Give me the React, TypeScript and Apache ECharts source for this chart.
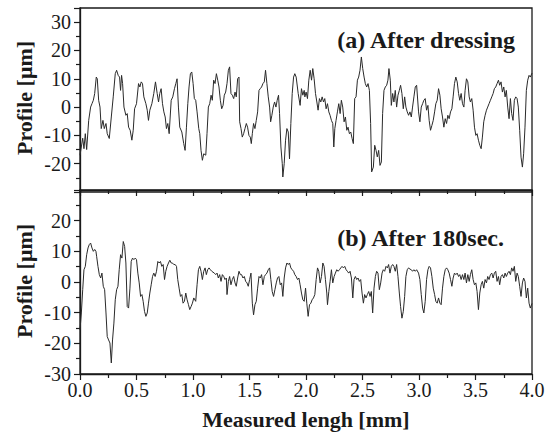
import React, { useEffect, useRef } from "react";
import * as echarts from "echarts";

// Measured length ticks [mm]
const xTicks = [0, 0.5, 1.0, 1.5, 2.0, 2.5, 3.0, 3.5, 4.0];

// (a) After dressing : position [mm]
const topX = [
  0.000, 0.024, 0.035, 0.047, 0.059, 0.077, 0.094, 0.106, 0.118, 0.130, 0.144, 0.153, 0.165, 0.177, 0.188, 0.203, 0.215, 0.230, 0.241, 0.259,
  0.277, 0.294, 0.312, 0.324, 0.338, 0.350, 0.359, 0.368, 0.377, 0.389, 0.406, 0.418, 0.430, 0.444, 0.459, 0.471, 0.483, 0.500, 0.518, 0.530,
  0.542, 0.553, 0.565, 0.583, 0.595, 0.606, 0.618, 0.636, 0.653, 0.668, 0.683, 0.695, 0.706, 0.718, 0.730, 0.742, 0.754, 0.765, 0.777, 0.789,
  0.807, 0.821, 0.836, 0.848, 0.859, 0.871, 0.883, 0.901, 0.918, 0.930, 0.942, 0.954, 0.965, 0.977, 0.989, 1.001, 1.012,
  1.024, 1.036, 1.051, 1.060, 1.071, 1.083, 1.095, 1.113, 1.124, 1.136, 1.148, 1.160, 1.171, 1.183, 1.195, 1.207, 1.219, 1.230, 1.242, 1.254,
  1.266, 1.277, 1.289, 1.301, 1.313, 1.324, 1.336, 1.348, 1.360, 1.372, 1.383, 1.395, 1.407, 1.413, 1.425, 1.436, 1.448, 1.460, 1.472, 1.483,
  1.495, 1.507, 1.516, 1.525, 1.536, 1.548, 1.560, 1.572, 1.584, 1.595, 1.607, 1.619, 1.631, 1.642, 1.654, 1.666, 1.678, 1.687, 1.698, 1.710,
  1.722, 1.734, 1.745, 1.757, 1.766, 1.778, 1.790, 1.795, 1.807, 1.819, 1.831, 1.843, 1.854, 1.866, 1.878, 1.890, 1.901, 1.913, 1.931, 1.948,
  1.960, 1.972, 1.984,
  1.990, 2.001, 2.013, 2.025, 2.037, 2.049, 2.060, 2.072, 2.084, 2.096, 2.107, 2.119, 2.131, 2.143, 2.155, 2.166, 2.178, 2.190, 2.202, 2.213,
  2.225, 2.237, 2.246, 2.255, 2.266, 2.278, 2.290, 2.302, 2.313, 2.325, 2.337, 2.349, 2.361, 2.372, 2.384, 2.396, 2.408, 2.419, 2.431, 2.443,
  2.455, 2.466, 2.478, 2.490, 2.502, 2.514, 2.525, 2.537, 2.549, 2.561, 2.572, 2.581, 2.596, 2.608, 2.620, 2.631, 2.643, 2.655, 2.667, 2.678,
  2.690, 2.702, 2.714, 2.725, 2.734, 2.746, 2.755, 2.767, 2.778, 2.790, 2.802, 2.814, 2.826, 2.837, 2.849, 2.861, 2.873, 2.884, 2.896, 2.908,
  2.920, 2.932, 2.943, 2.955, 2.967, 2.979,
  2.996, 3.008, 3.020, 3.032, 3.043, 3.055, 3.067, 3.079, 3.090, 3.102, 3.114, 3.126, 3.138, 3.149, 3.161, 3.173, 3.185, 3.196, 3.208, 3.220,
  3.232, 3.244, 3.255, 3.267, 3.279, 3.291, 3.302, 3.314, 3.326, 3.338, 3.350, 3.361, 3.373, 3.385, 3.397, 3.408, 3.420, 3.432, 3.444, 3.455,
  3.467, 3.479, 3.491, 3.503, 3.514, 3.526, 3.538, 3.550, 3.561, 3.573, 3.585, 3.597, 3.608, 3.620, 3.632, 3.644, 3.656, 3.667, 3.679, 3.691,
  3.703, 3.714, 3.726, 3.738, 3.750, 3.762, 3.773, 3.785, 3.797, 3.809, 3.820, 3.832, 3.844, 3.856, 3.868, 3.879, 3.891, 3.903, 3.915, 3.926,
  3.938, 3.950, 3.962, 3.974, 3.985, 4.000,
];

// (a) After dressing : profile [µm]
const topY = [
  -17, -11, -14.7, -9.4, -15, -4.7, 0, 1.2, 2.4, 4.8, 10.6, 10, 2.4, 0, -7.6, -4.7, -7.6, -5.8, -9.4, -11.1,
  -3.5, 3.6, 11.8, 13, 11.2, 10.6, 5.9, 11.2, 8.3, 0, -2.9, -2.3, -7.1, -8.2, -11.7, -8.2, -0.6, 1.2, 8.3, 7.1,
  8.9, 8.3, 3.6, 1.2, -1.1, -4.7, -1.1, 1.2, 4.8, 8.9, 4.8, 1.8, 4.8, 6.5, 1.2, -1.7, -3.5, -7.6, -5.8, -9.4,
  2.4, 3.6, 6.5, 8.3, 10, 0, -7.1, -8.8, -12.9, -15.3, -7.1, 1.2, 7.1, 11.8, 12.4, 8.3, 3.0,
  2.4, -1.7, -7.6, -9.4, -15.3, -18.8, -16.5, -17, -9.4, 0, 1.2, 4.2, 2.4, 9.5, 8.3, 11.8, 9.5, 7.1, 2.4, -0.6,
  0.6, 4.2, 5.3, 8.3, 13, 14.2, 4.8, 4.2, 3.0, 5.3, 3.6, 10, 10.6, -5.2, -7.6, -10.6, -9.4, -7.6, -5.8, -7.1,
  -10, -10.6, -12.9, -9.4, -5.8, -7.6, -4.7, -1.7, 5.9, 6.5, 7.1, 8.3, 8.9, 13, 8.3, 3.6, 0, -5.2, -2.9, 0,
  1.8, 0, 2.4, 4.2, -2.3, -14.1, -20, -24.7, -20, -11.7, -7.6, -8.8, -18.3, -5.8, 4.8, 10.6, 11.8, 10.6, 4.8, 0.6,
  6.5, 4.2, 5.9,
  3.6, 5.3, 3.0, 9.5, 13, 9.5, 13.6, 10, 4.8, 1.8, -1.1, 3.0, 1.8, 3.6, 1.8, 3.0, -0.6, 1.2, -1.7, -2.9,
  -4.7, -5.8, -14.1, -7.6, -4.7, -1.7, 1.2, -2.3, 2.4, 0, -5.2, -3.5, -8.2, -7.1, -9.4, -8.8, -11.1, -12.9, 3.0, 3.6,
  9.5, 10.6, 13, 17.7, 13.6, 10.6, 8.3, 7.1, 8.3, 5.9, -5.8, -22.9, -21.2, -13.5, -15.3, -17.6, -15.3, -20.6, -19.4, -2.3,
  5.9, 7.1, 7.7, 9.5, 13.6, 9.5, 0.6, 4.8, 1.8, 5.9, 0, 4.2, 5.9, 7.7, 4.8, -0.6, 3.6, 0, -1.7, -2.9,
  -1.7, -3.5, 0, 3.6, 7.1, 7.7,
  -1.7, -5.2, 0, 1.2, 2.4, 3.0, -1.1, 0.6, -4.7, -8.2, -6.5, -4.7, -1.7, 1.2, 2.4, 6.5, 4.2, -0.6, -3.5, -7.1,
  -4.1, -5.8, -2.9, -4.1, -1.7, -0.6, 3.6, 8.3, 10.6, 8.9, 4.8, 2.4, 4.8, 1.2, 0, 5.9, 10, 8.9, 3.6, 1.8,
  3.0, -1.1, -7.1, -10, -9.4, -11.7, -13.5, -14.7, -10.6, -5.2, -2.9, -1.1, 0, 1.2, 2.4, 3.6, 4.8, 6.5, 7.1, 8.3,
  9.5, 7.7, 8.9, 5.3, 7.1, 3.6, 5.9, 0, -4.1, 3.0, -2.3, -4.7, 2.4, 3.6, 3.0, 0, -8.2, -17.7, -21.2, -16.5,
  -7.1, 5.9, 9.5, 11.2, 10.6, 12,
];

// (b) After 180sec. : position [mm]
const botX = [
  0.000, 0.012, 0.024, 0.035, 0.047, 0.059, 0.071, 0.082, 0.094, 0.106, 0.118, 0.130, 0.141, 0.147, 0.159, 0.171, 0.183, 0.194, 0.206, 0.218,
  0.230, 0.241, 0.253, 0.265, 0.277, 0.288, 0.300, 0.312, 0.324, 0.336, 0.347, 0.359, 0.371, 0.383, 0.395, 0.406, 0.418, 0.430, 0.442, 0.453,
  0.465, 0.477, 0.489, 0.500, 0.512, 0.524, 0.536, 0.548, 0.559, 0.571, 0.583, 0.595, 0.606, 0.618, 0.630, 0.642, 0.653, 0.665, 0.677, 0.689,
  0.700, 0.712, 0.724, 0.736, 0.748, 0.759, 0.771, 0.783, 0.795, 0.807, 0.818, 0.830, 0.842, 0.854, 0.865, 0.877, 0.889, 0.901, 0.912, 0.924,
  0.936, 0.948, 0.960, 0.971, 0.983, 0.995, 1.007,
  1.024, 1.036, 1.048, 1.060, 1.071, 1.083, 1.095, 1.107, 1.118, 1.130, 1.142, 1.154, 1.166, 1.177, 1.189, 1.201, 1.213, 1.224, 1.236, 1.248,
  1.260, 1.272, 1.283, 1.295, 1.301, 1.313, 1.324, 1.336, 1.348, 1.360, 1.372, 1.383, 1.395, 1.407, 1.419, 1.430, 1.442, 1.454, 1.466, 1.478,
  1.489, 1.501, 1.513, 1.525, 1.536, 1.548, 1.560, 1.572, 1.584, 1.595, 1.607, 1.619, 1.631, 1.642, 1.654, 1.666, 1.678, 1.689, 1.701, 1.713,
  1.725, 1.737, 1.748, 1.760, 1.772, 1.784, 1.795, 1.807, 1.819, 1.831, 1.843, 1.854, 1.866, 1.878, 1.890, 1.901, 1.913, 1.925, 1.937, 1.948,
  1.960, 1.972, 1.984, 1.996,
  2.007, 2.019, 2.031, 2.043, 2.054, 2.066, 2.078, 2.090, 2.102, 2.113, 2.125, 2.137, 2.149, 2.160, 2.172, 2.184, 2.190, 2.202, 2.213, 2.225,
  2.237, 2.249, 2.260, 2.272, 2.284, 2.296, 2.308, 2.319, 2.331, 2.343, 2.355, 2.366, 2.378, 2.390, 2.402, 2.414, 2.425, 2.437, 2.449, 2.461,
  2.472, 2.484, 2.496, 2.508, 2.519, 2.531, 2.543, 2.555, 2.567, 2.578, 2.590, 2.602, 2.614, 2.625, 2.637, 2.649, 2.661, 2.673, 2.684, 2.696,
  2.708, 2.720, 2.731, 2.743, 2.755, 2.767, 2.778, 2.790, 2.802, 2.814, 2.826, 2.837, 2.849, 2.861, 2.873, 2.884, 2.896, 2.908, 2.920, 2.932,
  2.943, 2.955, 2.967, 2.979,
  2.985, 2.996, 3.008, 3.020, 3.032, 3.043, 3.055, 3.067, 3.079, 3.090, 3.102, 3.114, 3.126, 3.138, 3.149, 3.161, 3.173, 3.185, 3.196, 3.208,
  3.220, 3.232, 3.244, 3.255, 3.267, 3.279, 3.291, 3.302, 3.314, 3.326, 3.338, 3.350, 3.361, 3.373, 3.385, 3.397, 3.408, 3.420, 3.432, 3.444,
  3.455, 3.467, 3.479, 3.491, 3.503, 3.514, 3.526, 3.538, 3.550, 3.561, 3.573, 3.585, 3.597, 3.608, 3.620, 3.632, 3.644, 3.656, 3.667, 3.679,
  3.691, 3.703, 3.714, 3.726, 3.738, 3.750, 3.762, 3.773, 3.785, 3.797, 3.809, 3.820, 3.832, 3.844, 3.856, 3.868, 3.879, 3.891, 3.903, 3.915,
  3.926, 3.938, 3.950, 3.962, 3.974, 3.985, 4.000,
];

// (b) After 180sec. : profile [µm]
const botY = [
  -15.6, -10.1, -2.5, 4.0, 5.1, 8.9, 11.1, 12.2, 12.7, 11.1, 10, 10.6, 10, 8.4, 5.1, 2.4, 1.3, 2.9, -1.4, -2.5,
  -10.1, -17.8, -18.9, -19.9, -26.4, -18.9, -13.4, -5.8, -2.5, -1.4, 4.0, 8.9, 7.8, 13.2, 11.6, 6.2, -8.0, -8.5, -2.0, 6.7,
  7.8, 7.3, 7.8, 7.3, 2.9, -0.3, -4.7, -4.1, -6.3, -9.6, -11.2, -10.1, -6.9, -3.6, -0.9, 1.8, 2.9, 1.8, 3.5, 6.7,
  6.2, 6.7, 5.1, 5.7, 0.8, 3.5, 5.1, 6.2, 7.1, 6.2, 6.2, 5.7, 5.7, 5.1, 0.8, -2.0, -4.7, -4.1, -6.9, -6.3,
  -3.6, -5.8, -7.4, -9.0, -8.0, -6.9, -5.2,
  -6.3, -0.9, 4.0, 5.1, 3.5, 0.8, 3.5, 4.6, 2.4, 4.0, 4.6, 4.0, 3.5, 3.2, 2.9, 2.4, 2.9, 1.3, 2.4, 0.2,
  2.4, 1.8, 0.8, 1.3, -4.1, 0.2, 1.8, -0.9, 0.8, 1.8, -0.3, -1.4, 1.3, 3.5, 2.4, 2.4, 1.3, 1.8, 0.2, -0.3,
  -1.4, 0.8, 2.9, -6.9, -10.7, -7.4, -6.3, -2.0, 1.8, 1.3, 2.4, -0.9, 1.8, 2.4, 2.9, 4.0, 4.6, 0.8, -3.1, -4.7,
  -2.5, -0.3, 1.3, 1.8, -0.9, -0.3, -4.7, 1.3, 4.6, 6.2, 5.7, 6.2, 4.6, 4.0, 3.5, 2.4, 1.8, 0.8, 1.3, -0.9,
  -3.6, -5.8, -6.3, -2.0,
  -6.9, -11.2, -7.4, -6.9, -5.8, -5.2, -4.1, 0.8, 4.6, 3.5, -0.3, 1.8, 6.2, 5.1, 0.8, -3.6, -7.4, -3.1, 0.2, 4.0,
  -0.3, 1.8, 2.9, 4.0, 3.5, 4.0, 4.6, 5.1, 4.6, 5.1, 4.0, 3.5, 2.9, 3.5, 1.3, -5.2, 0.8, 1.8, 0.8, 1.3,
  0.2, 0.8, -3.6, -6.9, -4.1, -5.2, -4.1, -3.1, -4.7, -3.1, -10.1, -2.0, 1.8, 3.5, 2.9, -2.5, -0.3, 2.9, 4.0, 3.5,
  5.1, 4.6, 5.7, 2.9, 5.1, 5.7, 5.1, 3.5, 5.7, 1.8, -3.6, -8.0, -11.8, -9.6, -4.7, 1.8, 4.0, 4.6, 4.2, 4.0,
  3.5, 4.0, 3.5, 4.0,
  4.0, 2.9, 0.8, -4.1, -8.5, -10.1, -6.3, 0.8, 4.0, 5.1, 4.6, 1.8, -2.0, -4.1, -6.3, -6.9, -5.2, -6.9, -7.4, -2.0,
  1.8, 4.0, 4.6, 4.0, 2.9, 0.8, -1.4, 1.3, 2.9, 2.4, 2.9, 1.8, 2.4, 0.8, 2.4, 0.8, 2.9, -0.3, 2.4, 0.2,
  2.4, 4.0, 0.8, -0.9, -0.3, -3.1, -9.0, -3.6, -0.9, 0.2, -2.0, 0.8, -0.3, 1.8, 0.8, 2.4, 2.9, 1.3, 2.9, 3.5,
  0.2, 1.8, -0.9, 1.8, 2.4, 1.3, 2.9, 1.8, 2.9, 3.5, 2.4, 4.6, 3.5, 5.1, 0.2, 2.9, 1.8, -1.4, -4.7, -0.3,
  1.3, 0.2, -5.2, -2.0, -6.9, -8.5, -7.0,
];

const topYTicks = [-20, -10, 0, 10, 20, 30];
const botYTicks = [-30, -20, -10, 0, 10, 20];

const labelA = "(a) After dressing";
const labelB = "(b) After 180sec.";
const yName = "Profile [μm]";
const xName = "Measured lengh [mm]";

const INK = "#1a1a1a";
const SERIF = "Liberation Serif, Times New Roman, serif";

export default function App() {
  const ref = useRef<HTMLDivElement>(null);

  useEffect(() => {
    document.body.style.margin = "0";
    const chart = echarts.init(ref.current!, undefined, { renderer: "svg" });

    const zip = (xs: number[], ys: number[]) => xs.map((x, i) => [x, ys[i]]);
    const lineAxis = { show: true, onZero: false, lineStyle: { color: INK, width: 1.3 } };
    const tickStyle = { color: INK, width: 1.2 };
    const labelStyle = { fontFamily: SERIF, fontSize: 20, color: INK };

    const yAxisCommon = (min: number, max: number, ticks: number[]) => ({
      type: "value",
      min,
      max,
      interval: 10,
      axisLine: lineAxis,
      axisTick: { show: true, inside: false, length: 6, lineStyle: tickStyle },
      minorTick: { show: true, splitNumber: 2, length: 4, lineStyle: tickStyle },
      splitLine: { show: false },
      minorSplitLine: { show: false },
      axisLabel: {
        ...labelStyle,
        margin: 9,
        showMinLabel: true,
        showMaxLabel: true,
        formatter: (v: number) => (ticks.indexOf(v) >= 0 ? String(v) : ""),
      },
    });

    chart.setOption({
      animation: false,
      backgroundColor: "#ffffff",
      grid: [
        { left: 80, top: 8, width: 452, height: 184, show: true, borderColor: INK, borderWidth: 1.3, backgroundColor: "transparent" },
        { left: 80, top: 190, width: 452, height: 184, show: true, borderColor: INK, borderWidth: 1.3, backgroundColor: "transparent" },
      ],
      xAxis: [
        {
          gridIndex: 0, type: "value", min: 0, max: 4, interval: 0.5,
          axisLine: { show: false, onZero: false }, axisTick: { show: false }, axisLabel: { show: false }, splitLine: { show: false },
        },
        {
          gridIndex: 1, type: "value", min: 0, max: 4, interval: 0.5, position: "bottom",
          axisLine: lineAxis,
          axisTick: { show: true, inside: false, length: 6, lineStyle: tickStyle },
          minorTick: { show: true, splitNumber: 2, length: 4, lineStyle: tickStyle },
          splitLine: { show: false },
          axisLabel: {
            ...labelStyle,
            margin: 6,
            showMinLabel: true,
            showMaxLabel: true,
            formatter: (v: number) => (xTicks.indexOf(v) >= 0 ? v.toFixed(1) : ""),
          },
        },
        {
          gridIndex: 1, type: "value", min: 0, max: 4, interval: 0.5, position: "top",
          axisLine: lineAxis,
          axisTick: { show: true, inside: true, length: 6, lineStyle: tickStyle },
          minorTick: { show: true, splitNumber: 2, length: 4, lineStyle: tickStyle },
          splitLine: { show: false },
          axisLabel: { show: false },
        },
      ],
      yAxis: [
        { gridIndex: 0, ...yAxisCommon(-30, 35, topYTicks) },
        { gridIndex: 1, ...yAxisCommon(-30, 30, botYTicks) },
      ],
      series: [
        {
          type: "line", xAxisIndex: 0, yAxisIndex: 0, data: zip(topX, topY),
          showSymbol: false, symbol: "none", clip: true,
          lineStyle: { color: "#2a2a2a", width: 1 },
        },
        {
          type: "line", xAxisIndex: 1, yAxisIndex: 1, data: zip(botX, botY),
          showSymbol: false, symbol: "none", clip: true,
          lineStyle: { color: "#2a2a2a", width: 1 },
        },
      ],
      graphic: [
        {
          type: "text", x: 24, y: 98, rotation: Math.PI / 2,
          style: { text: yName, font: `bold 22px ${SERIF}`, fill: INK, align: "center", verticalAlign: "middle" },
        },
        {
          type: "text", x: 24, y: 281, rotation: Math.PI / 2,
          style: { text: yName, font: `bold 22px ${SERIF}`, fill: INK, align: "center", verticalAlign: "middle" },
        },
        {
          type: "text", x: 306, y: 419,
          style: { text: xName, font: `bold 22px ${SERIF}`, fill: INK, align: "center", verticalAlign: "middle" },
        },
        {
          type: "text", x: 515, y: 40,
          style: { text: labelA, font: `bold 24px ${SERIF}`, fill: INK, align: "right", verticalAlign: "middle" },
        },
        {
          type: "text", x: 504, y: 238,
          style: { text: labelB, font: `bold 24px ${SERIF}`, fill: INK, align: "right", verticalAlign: "middle" },
        },
      ],
    });

    return () => chart.dispose();
  }, []);

  return <div ref={ref} style={{ width: 551, height: 436 }} />;
}
